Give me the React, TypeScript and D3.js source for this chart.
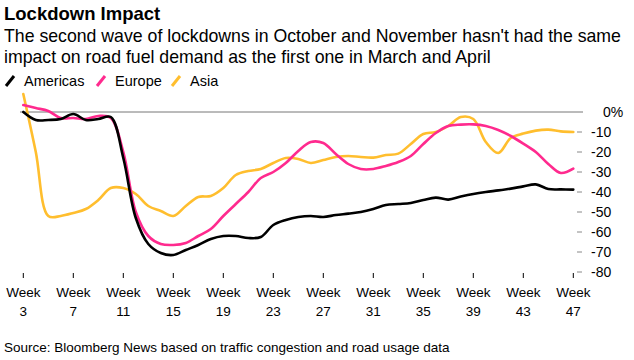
import React from "react";
import * as d3 from "d3";

const weeks: number[] = d3.range(3, 48);

const americas: number[] = [
  0, -4, -4, -3.5, -1, -4, -3.5, -2.5, -23, -53,
  -66, -70.5, -71.5, -69, -66.5, -63.5, -62, -62, -63, -62.5,
  -56.5, -54, -52.5, -52, -52.5, -51.5, -50.8, -50, -48.5, -46.5,
  -46, -45.5, -44, -42.8, -43.8, -42.3, -41, -40, -39.2, -38.3,
  -37.2, -36.2, -38.5, -38.7, -38.8,
];

const europe: number[] = [
  3.5, 2, 0.5, -3, -3, -3.5, -2, -3, -20, -50,
  -62, -66, -66.5, -65.5, -62, -58.5, -52, -46, -40, -33,
  -30, -25.5, -19.5, -15, -15.5, -21, -26, -28.5, -28.5, -27,
  -25, -22, -16, -10.5, -7, -6.3, -6.2, -7, -9, -12,
  -15.8, -20, -26, -30.5, -28.3,
];

const asia: number[] = [
  9, -20, -52, -52, -50.5, -48.5, -44, -38, -38, -41,
  -47, -49.5, -52, -47, -42.5, -42, -38, -31.5, -29.5, -28.5,
  -25.5, -23, -23.5, -25.5, -24, -22.5, -22, -22.5, -22.8, -21.5,
  -20.8, -16, -11, -10, -7, -2.5, -3.5, -15, -20.5, -13,
  -10.8, -9.3, -8.8, -9.7, -10,
];

const seriesNames: string[] = ["Americas", "Europe", "Asia"];
const seriesColors: string[] = ["#000000", "#ff2a8e", "#ffbe2e"];
const xTickWeeks: number[] = [3, 7, 11, 15, 19, 23, 27, 31, 35, 39, 43, 47];
const yTickValues: number[] = [0, -10, -20, -30, -40, -50, -60, -70, -80];

const title = "Lockdown Impact";
const subtitleLines: string[] = [
  "The second wave of lockdowns in October and November hasn't had the same",
  "impact on road fuel demand as the first one in March and April",
];
const source = "Source: Bloomberg News based on traffic congestion and road usage data";

const FONT = "'Liberation Sans', Arial, Helvetica, sans-serif";

export default function App() {
  const W = 634;
  const H = 360;
  const x = d3.scaleLinear().domain([3, 47]).range([23.3, 573.3]);
  const y = d3.scaleLinear().domain([-80, 0]).range([272, 112]);
  const line = d3
    .line<number>()
    .x((_, i) => x(weeks[i]))
    .y((d) => y(d))
    .curve(d3.curveCatmullRom.alpha(0.5));

  const data = [americas, europe, asia];
  const legendX = [6, 97, 172];

  return (
    <svg
      width={W}
      height={H}
      style={{ position: "absolute", left: 0, top: 0, background: "#fff" }}
      fontFamily={FONT}
    >
      <text x={4} y={20} fontSize={18.5} fontWeight="bold" fill="#000">
        {title}
      </text>
      {subtitleLines.map((s, i) => (
        <text key={i} x={4} y={42 + i * 21} fontSize={17.7} fill="#000">
          {s}
        </text>
      ))}
      {seriesNames.map((n, i) => (
        <g key={n} transform={`translate(${legendX[i]},0)`}>
          <line x1={0} y1={86} x2={8} y2={76} stroke={seriesColors[i]} strokeWidth={3} />
          <text x={18} y={86} fontSize={14.5} fill="#000">
            {n}
          </text>
        </g>
      ))}

      {/* zero line */}
      <line x1={20} x2={583} y1={y(0)} y2={y(0)} stroke="#777" strokeWidth={1} />
      {/* right axis */}
      {yTickValues.map((v) => (
        <g key={v}>
          {v !== 0 && (
            <line x1={577} x2={582} y1={y(v)} y2={y(v)} stroke="#888" strokeWidth={1} />
          )}
          <text
            x={v === 0 ? 603 : 591}
            y={y(v) + 5}
            fontSize={14}
            fill="#000"
          >
            {v === 0 ? "0%" : String(v)}
          </text>
        </g>
      ))}
      {/* x axis */}
      {xTickWeeks.map((w) => (
        <g key={w}>
          <line x1={x(w)} x2={x(w)} y1={273} y2={278} stroke="#000" strokeWidth={1} />
          <text x={x(w)} y={297} fontSize={13.5} textAnchor="middle" fill="#000">
            Week
          </text>
          <text x={x(w)} y={316} fontSize={13.5} textAnchor="middle" fill="#000">
            {w}
          </text>
        </g>
      ))}

      {[2, 1, 0].map((i) => (
        <path
          key={i}
          d={line(data[i]) || ""}
          fill="none"
          stroke={seriesColors[i]}
          strokeWidth={2.6}
          strokeLinejoin="round"
          strokeLinecap="round"
        />
      ))}

      <text x={4} y={352} fontSize={13.5} fill="#000">
        {source}
      </text>
    </svg>
  );
}
